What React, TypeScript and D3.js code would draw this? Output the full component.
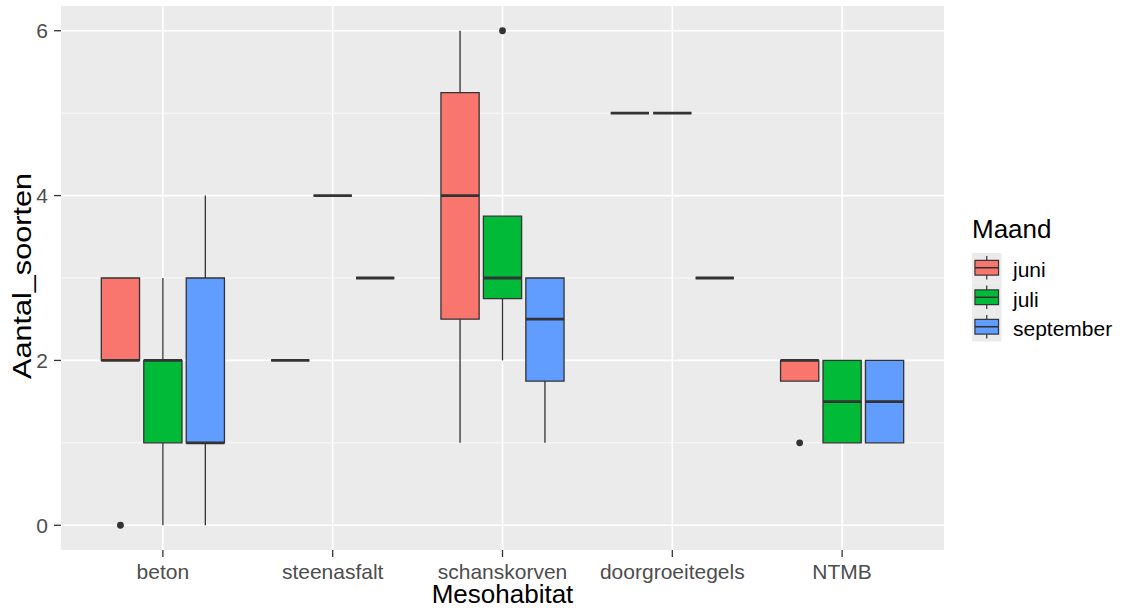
import React from "react";
import * as d3 from "d3";

// Mesohabitat categories on the x axis
const categories = ["beton", "steenasfalt", "schanskorven", "doorgroeitegels", "NTMB"];
const months = ["juni", "juli", "september"];
const monthColors = ["#F8766D", "#00BA38", "#619CFF"];

// Box summaries per month, per category: [ymin, lower, middle, upper, ymax]
const juniStats = [
  [2, 2, 2, 3, 3],
  [2, 2, 2, 2, 2],
  [1, 2.5, 4, 5.25, 6],
  [5, 5, 5, 5, 5],
  [1.75, 1.75, 2, 2, 2],
];
const juliStats = [
  [0, 1, 2, 2, 3],
  [4, 4, 4, 4, 4],
  [2, 2.75, 3, 3.75, 3.75],
  [5, 5, 5, 5, 5],
  [1, 1, 1.5, 2, 2],
];
const septemberStats = [
  [0, 1, 1, 3, 4],
  [3, 3, 3, 3, 3],
  [1, 1.75, 2.5, 3, 3],
  [3, 3, 3, 3, 3],
  [1, 1, 1.5, 2, 2],
];
// Outliers per month, per category
const juniOutliers = [[0], [], [], [], [1]];
const juliOutliers = [[], [], [6], [], []];
const septemberOutliers = [[], [], [], [], []];

const yTicks = [0, 2, 4, 6];
const yMinor = [1, 3, 5];

const W = 1122;
const H = 609;
const panel = { left: 61, right: 944, top: 6, bottom: 550 };
const FONT = "'Liberation Sans', Arial, sans-serif";
const INK = "#333333";

export default function App() {
  const stats = [juniStats, juliStats, septemberStats];
  const outliers = [juniOutliers, juliOutliers, septemberOutliers];

  const x = d3.scalePoint<string>().domain(categories).range([panel.left, panel.right]).padding(0.6);
  const y = d3.scaleLinear().domain([-0.3, 6.3]).range([panel.bottom, panel.top]);
  const step = x.step();
  const dodge = 0.25 * step;
  const boxW = dodge * 0.9;

  const boxes: React.ReactNode[] = [];
  months.forEach((m, j) => {
    categories.forEach((c, i) => {
      const [ymin, lo, mid, hi, ymax] = stats[j][i];
      const cx = (x(c) as number) + (j - 1) * dodge;
      const x0 = cx - boxW / 2;
      const x1 = cx + boxW / 2;
      const boxPath = `M${x0},${y(hi)}L${x1},${y(hi)}L${x1},${y(lo)}L${x0},${y(lo)}Z`;
      boxes.push(
        <g key={`${m}-${c}`}>
          {ymax > hi && (
            <line x1={cx} x2={cx} y1={y(hi)} y2={y(ymax)} stroke={INK} strokeWidth={1.3} />
          )}
          {ymin < lo && (
            <line x1={cx} x2={cx} y1={y(lo)} y2={y(ymin)} stroke={INK} strokeWidth={1.3} />
          )}
          <path d={boxPath} fill={monthColors[j]} stroke={INK} strokeWidth={1.3} strokeLinejoin="miter" />
          <line x1={x0} x2={x1} y1={y(mid)} y2={y(mid)} stroke={INK} strokeWidth={2.8} />
          {outliers[j][i].map((v, k) => (
            <circle key={k} cx={cx} cy={y(v)} r={3.4} fill={INK} />
          ))}
        </g>
      );
    });
  });

  const keySize = 29.5;
  const legendX = 972;
  const legendY = 253;

  return (
    <svg
      width={W}
      height={H}
      style={{ position: "absolute", left: 0, top: 0, background: "#ffffff" }}
      fontFamily={FONT}
    >
      <rect x={0} y={0} width={W} height={H} fill="#ffffff" />
      {/* panel background and grid */}
      <rect
        x={panel.left}
        y={panel.top}
        width={panel.right - panel.left}
        height={panel.bottom - panel.top}
        fill="#EBEBEB"
      />
      {yMinor.map((v) => (
        <line key={`mn${v}`} x1={panel.left} x2={panel.right} y1={y(v)} y2={y(v)} stroke="#ffffff" strokeWidth={0.8} />
      ))}
      {yTicks.map((v) => (
        <line key={`mj${v}`} x1={panel.left} x2={panel.right} y1={y(v)} y2={y(v)} stroke="#ffffff" strokeWidth={1.6} />
      ))}
      {categories.map((c) => (
        <line key={`vx${c}`} x1={x(c)} x2={x(c)} y1={panel.top} y2={panel.bottom} stroke="#ffffff" strokeWidth={1.6} />
      ))}

      {boxes}

      {/* y axis */}
      {yTicks.map((v) => (
        <g key={`yt${v}`}>
          <line x1={panel.left - 7} x2={panel.left} y1={y(v)} y2={y(v)} stroke={INK} strokeWidth={1.3} />
          <text x={48} y={y(v)} dy="0.36em" textAnchor="end" fontSize={21} fill="#4D4D4D">
            {v}
          </text>
        </g>
      ))}
      {/* x axis */}
      {categories.map((c) => (
        <g key={`xt${c}`}>
          <line x1={x(c)} x2={x(c)} y1={panel.bottom} y2={panel.bottom + 7} stroke={INK} strokeWidth={1.3} />
          <text x={x(c)} y={579} textAnchor="middle" fontSize={21} fill="#4D4D4D">
            {c}
          </text>
        </g>
      ))}

      {/* axis titles */}
      <text x={(panel.left + panel.right) / 2} y={603} textAnchor="middle" fontSize={26} fill="#000000">
        Mesohabitat
      </text>
      <text
        transform={`translate(31,${(panel.top + panel.bottom) / 2 - 2}) rotate(-90)`}
        textAnchor="middle"
        fontSize={26}
        fill="#000000"
        textLength={206}
        lengthAdjust="spacingAndGlyphs"
      >
        Aantal_soorten
      </text>

      {/* legend */}
      <text x={legendX} y={238} fontSize={26} fill="#000000">
        Maand
      </text>
      {months.map((m, j) => {
        const ky = legendY + j * keySize;
        const kx = legendX;
        const cx = kx + keySize / 2;
        return (
          <g key={`lg${m}`}>
            <rect x={kx} y={ky} width={keySize} height={keySize} fill="#EBEBEB" />
            <line x1={cx} x2={cx} y1={ky + keySize * 0.1} y2={ky + keySize * 0.9} stroke={INK} strokeWidth={1.2} />
            <rect
              x={kx + keySize * 0.1}
              y={ky + keySize * 0.25}
              width={keySize * 0.8}
              height={keySize * 0.5}
              fill={monthColors[j]}
              stroke={INK}
              strokeWidth={1.2}
            />
            <line
              x1={kx + keySize * 0.1}
              x2={kx + keySize * 0.9}
              y1={ky + keySize / 2}
              y2={ky + keySize / 2}
              stroke={INK}
              strokeWidth={1.6}
            />
            <text x={1013} y={ky + keySize / 2 + 2} dy="0.36em" fontSize={21} fill="#000000">
              {m}
            </text>
          </g>
        );
      })}
    </svg>
  );
}
